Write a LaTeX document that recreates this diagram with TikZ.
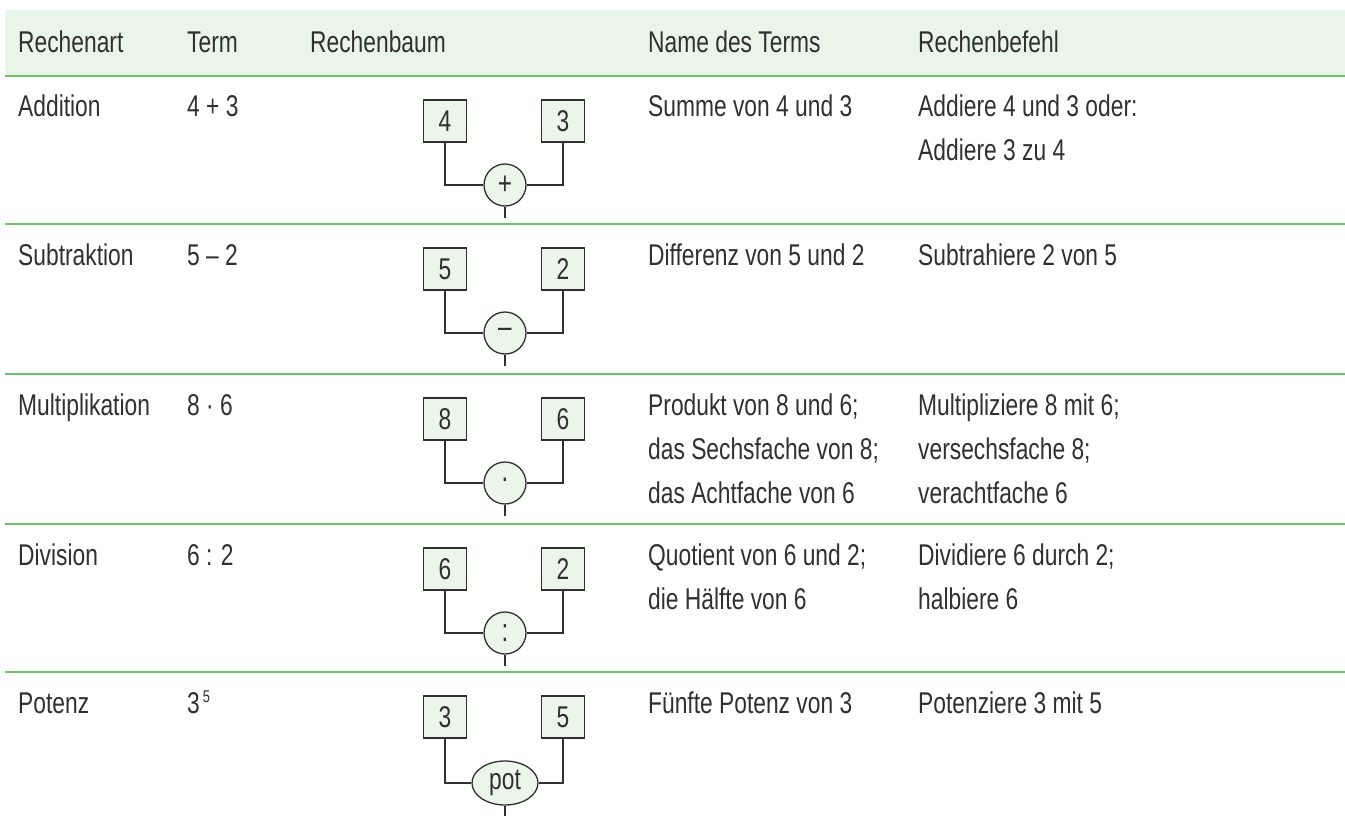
\documentclass[tikz,border=0pt]{standalone}
\usepackage{fontspec}
\setmainfont{Liberation Sans}[FakeStretch=0.76]
\usetikzlibrary{shapes.geometric}
\definecolor{headfill}{HTML}{EAF5E9}
\definecolor{rulegreen}{HTML}{6DC46B}
\definecolor{ink}{HTML}{303030}
\definecolor{boxfill}{HTML}{EBF5E9}
% lines of a cell, aligned on the baseline of the first one
\newcommand\celllines[1]{\begin{tabular}[t]{@{}l@{}}#1\end{tabular}}
\tikzset{
  cell/.style={anchor=base west, inner sep=0pt, text=ink, font=\fontsize{30}{44}\selectfont},
  leaf/.style={draw=ink, line width=1.3pt, fill=boxfill, minimum width=43pt, minimum height=42pt, inner sep=0pt, text=ink, font=\fontsize{30}{34}\selectfont},
  opnode/.style={circle, draw=ink, line width=1.3pt, fill=boxfill, minimum size=42pt, inner sep=0pt, text=ink, font=\fontsize{32}{36}\selectfont},
  potnode/.style={ellipse, draw=ink, line width=1.3pt, fill=boxfill, minimum width=66pt, minimum height=44pt, inner sep=0pt, text=ink, font=\fontsize{30}{34}\selectfont},
  wire/.style={draw=ink, line width=1.2pt},
  rowrule/.style={draw=rulegreen, line width=2pt}
}
\begin{document}
\begin{tikzpicture}[x=1pt, y=-1pt]
\useasboundingbox (0,0) rectangle (1345,816);
% header band
\fill[headfill] (5,10) rectangle (1345,76);
% row rules
\foreach \yy in {76,224,374,524,672} \draw[rowrule] (5,\yy) -- (1345,\yy);

% header
\node[cell] (h1) at (18,53) {Rechenart};
\node[cell] (h2) at (187,53) {Term};
\node[cell] (h3) at (310,53) {Rechenbaum};
\node[cell] (h4) at (648,53) {Name des Terms};
\node[cell] (h5) at (918,53) {Rechenbefehl};

% row texts
\node[cell] (a1) at (18,117) {Addition};
\node[cell] (a2) at (187,117) {4 + 3};
\node[cell] (a4) at (648,117) {Summe von 4 und 3};
\node[cell] (a5) at (918,117) {\celllines{Addiere 4 und 3 oder:\\Addiere 3 zu 4}};

\node[cell] (s1) at (18,265) {Subtraktion};
\node[cell] (s2) at (187,265) {5 – 2};
\node[cell] (s4) at (648,265) {Differenz von 5 und 2};
\node[cell] (s5) at (918,265) {Subtrahiere 2 von 5};

\node[cell] (m1) at (18,415) {Multiplikation};
\node[cell] (m2) at (187,415) {8 · 6};
\node[cell] (m4) at (648,415) {\celllines{Produkt von 8 und 6;\\das Sechsfache von 8;\\das Achtfache von 6}};
\node[cell] (m5) at (918,415) {\celllines{Multipliziere 8 mit 6;\\versechsfache 8;\\verachtfache 6}};

\node[cell] (d1) at (18,565) {Division};
\node[cell] (d2) at (187,565) {6 : 2};
\node[cell] (d4) at (648,565) {\celllines{Quotient von 6 und 2;\\die Hälfte von 6}};
\node[cell] (d5) at (918,565) {\celllines{Dividiere 6 durch 2;\\halbiere 6}};

\node[cell] (p1) at (18,713) {Potenz};
\node[cell] (p2) at (187,713) {3\kern3pt\raisebox{11pt}{\fontsize{17}{20}\selectfont 5}};
\node[cell] (p4) at (648,713) {Fünfte Potenz von 3};
\node[cell] (p5) at (918,713) {Potenziere 3 mit 5};

% calculation trees
\foreach \T/\l/\r/\op/\nm in {76/4/3/+/add, 224/5/2/–/sub, 374/8/6/·/mul, 524/6/2/:/div} {
  \node[leaf] (\nm L) at (445,\T+45) {\l};
  \node[leaf] (\nm R) at (563,\T+45) {\r};
  \node[opnode] (\nm O) at (505,\T+109) {\op};
  \coordinate (\nm E) at (505,\T+142);
  \draw[wire] (\nm L.south) |- (\nm O.west);
  \draw[wire] (\nm R.south) |- (\nm O.east);
  \draw[wire] (\nm O.south) -- (\nm E);
}
\node[leaf] (potL) at (445,717) {3};
\node[leaf] (potR) at (563,717) {5};
\node[potnode] (potO) at (505,783) {pot};
\coordinate (potE) at (505,816);
\draw[wire] (potL.south) |- (potO.west);
\draw[wire] (potR.south) |- (potO.east);
\draw[wire] (potO.south) -- (potE);
\end{tikzpicture}
\end{document}
